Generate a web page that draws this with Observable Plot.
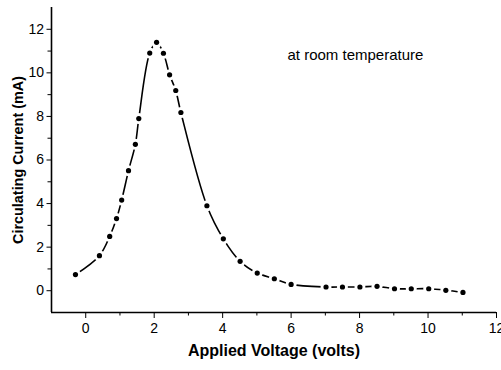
<!DOCTYPE html>
<html>
<head>
<meta charset="utf-8">
<script src="https://cdn.jsdelivr.net/npm/d3@7"></script>
<script src="https://cdn.jsdelivr.net/npm/@observablehq/plot@0.6"></script>
<style>
  html, body { margin: 0; padding: 0; background: #fff; }
  #chart { width: 501px; height: 370px; }
  svg { font-family: "Liberation Sans", Arial, sans-serif; }
</style>
</head>
<body>
<div id="chart"></div>
<script>
const voltage = [-0.3, 0.4, 0.7, 0.9, 1.05, 1.25, 1.45, 1.55, 1.87, 2.07, 2.27, 2.45, 2.63, 2.78, 3.54, 4.02, 4.51, 5.01, 5.51, 6.0, 7.02, 7.5, 8.01, 8.51, 9.02, 9.51, 10.02, 10.52, 11.02];
const current = [0.74, 1.61, 2.49, 3.31, 4.16, 5.51, 6.72, 7.9, 10.91, 11.4, 10.9, 9.91, 9.19, 8.18, 3.9, 2.38, 1.35, 0.81, 0.55, 0.29, 0.17, 0.17, 0.17, 0.2, 0.09, 0.09, 0.09, 0.02, -0.08];
const majorX = [0, 2, 4, 6, 8, 10, 12];
const minorX = [1, 3, 5, 7, 9, 11];
const majorY = [0, 2, 4, 6, 8, 10, 12];
const minorY = [1, 3, 5, 7, 9, 11];
const xLabel = "Applied Voltage (volts)";
const yLabel = "Circulating Current (mA)";
const note = "at room temperature";

const data = voltage.map((v, i) => ({v, c: current[i]}));

const chart = Plot.plot({
  width: 501,
  height: 370,
  marginLeft: 51,
  marginRight: 5,
  marginTop: 7,
  marginBottom: 58,
  style: {fontFamily: "'Liberation Sans', Arial, sans-serif", fontSize: "14px", color: "#000", background: "#fff"},
  x: {domain: [-1, 12]},
  y: {domain: [-1, 13]},
  marks: [
    Plot.line(data, {x: "v", y: "c", curve: "catmull-rom", stroke: "#000", strokeWidth: 1.6}),
    Plot.dot(data, {x: "v", y: "c", r: 5.5, fill: "#fff", stroke: null}),
    Plot.dot(data, {x: "v", y: "c", r: 2.6, fill: "#000", stroke: null}),
    Plot.ruleY([-1], {stroke: "#000", strokeWidth: 1.6}),
    Plot.ruleX([-1], {stroke: "#000", strokeWidth: 1.6}),
    Plot.axisX(majorX, {tickSize: 6, tickPadding: 5, label: null, fontSize: 14}),
    Plot.axisX(minorX, {tickSize: 3.5, text: null, label: null}),
    Plot.axisY(majorY, {tickSize: 4.5, tickPadding: 3, label: null, fontSize: 14}),
    Plot.axisY(minorY, {tickSize: 3.5, text: null, label: null}),
    Plot.text([xLabel], {frameAnchor: "bottom", textAnchor: "middle", dy: 43, fontWeight: "bold", fontSize: 16}),
    Plot.text([yLabel], {frameAnchor: "left", textAnchor: "middle", dx: -33.5, rotate: -90, fontWeight: "bold", fontSize: 14.4}),
    Plot.text([note], {frameAnchor: "top-left", dx: 236, dy: 42, textAnchor: "start", fontSize: 15})
  ]
});
document.getElementById("chart").appendChild(chart);
</script>
</body>
</html>
